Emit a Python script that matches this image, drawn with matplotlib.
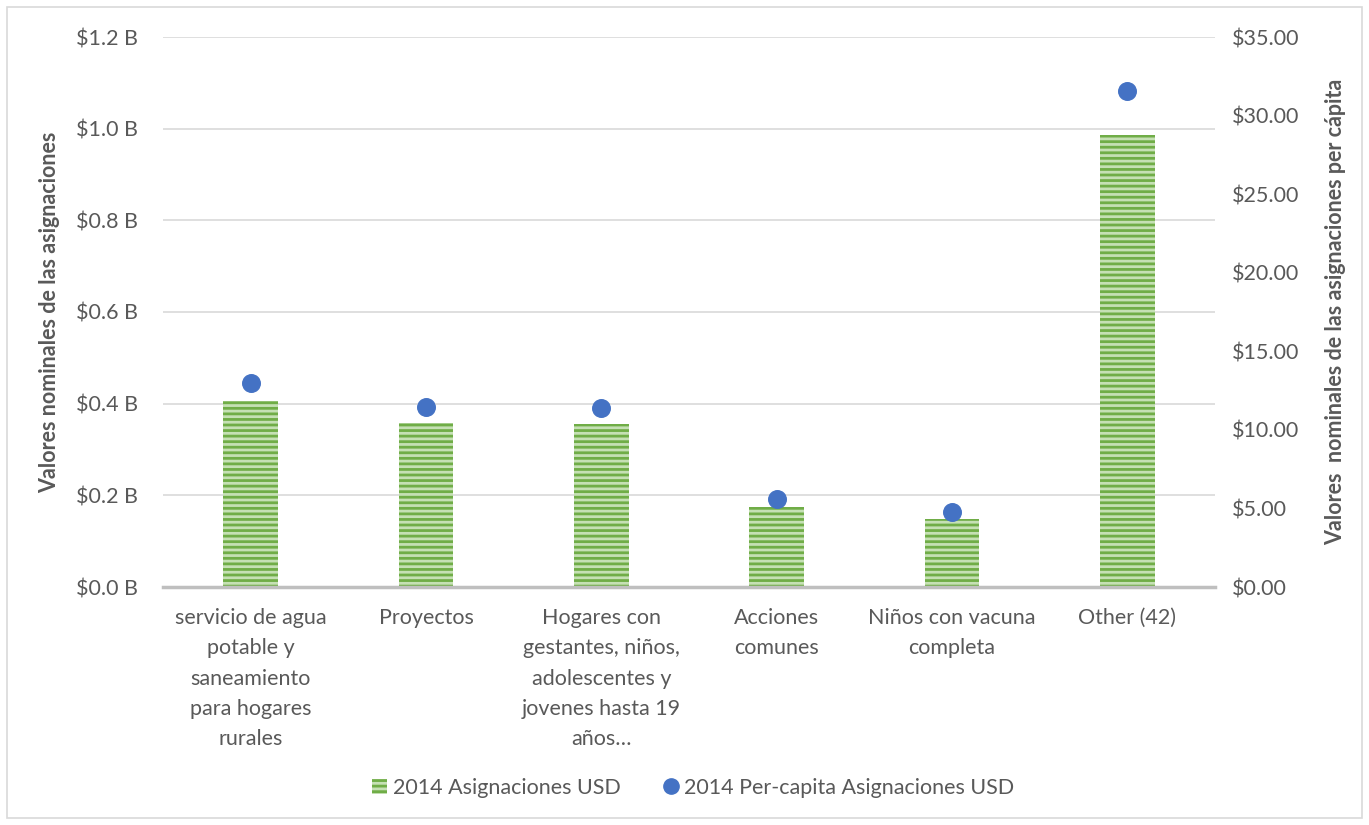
import matplotlib
matplotlib.use("Agg")
import matplotlib.pyplot as plt
from matplotlib.patches import Rectangle
from matplotlib.lines import Line2D
from matplotlib.ticker import FuncFormatter

plt.rcParams['font.family'] = ['Lato', 'DejaVu Sans']
plt.rcParams['hatch.linewidth'] = 2.0

categories = ["servicio de agua\npotable y\nsaneamiento\npara hogares\nrurales",
              "Proyectos",
              "Hogares con\ngestantes, niños,\nadolescentes y\njovenes hasta 19\naños…",
              "Acciones\ncomunes",
              "Niños con vacuna\ncompleta",
              "Other (42)"]
asignaciones_b = [0.406, 0.358, 0.355, 0.175, 0.148, 0.986]
percapita = [13.0, 11.46, 11.4, 5.6, 4.77, 31.58]
left_ticks = [0.0, 0.2, 0.4, 0.6, 0.8, 1.0, 1.2]
right_ticks = [0, 5, 10, 15, 20, 25, 30, 35]

grey = '#595959'
fs = 15.5
fig = plt.figure(figsize=(13.69, 8.25), dpi=100)
fig.patches.append(Rectangle((7/1369, 7/825), 1355/1369, 811/825, transform=fig.transFigure,
                             fill=False, edgecolor='#D9D9D9', linewidth=1.2))

ax = fig.add_axes([163/1369, 1-587/825, (1215-163)/1369, (587-37)/825])
x = list(range(len(categories)))
ax.bar(x, asignaciones_b, width=0.31, color='#C5E0B4', edgecolor='#70AD47', hatch='---',
       linewidth=0, zorder=2)
ax.set_ylim(0, 1.2)
ax.set_xlim(-0.5, len(categories) - 0.5)
ax.set_yticks(left_ticks)
ax.yaxis.set_major_formatter(FuncFormatter(lambda v, p: f"${v:.1f} B"))
ax.grid(axis='y', color='#D9D9D9', linewidth=1.2, zorder=0)
ax.set_axisbelow(True)
for s in ['top', 'right', 'left']:
    ax.spines[s].set_visible(False)
ax.spines['bottom'].set_color('#BFBFBF')
ax.spines['bottom'].set_linewidth(2.5)
ax.spines['bottom'].set_zorder(3)
ax.tick_params(axis='both', length=0, labelsize=fs, labelcolor=grey)
ax.tick_params(axis='y', pad=18)
ax.tick_params(axis='x', pad=15)
ax.set_xticks(x)
ax.set_xticklabels(categories, linespacing=1.65, va='top')
ax.set_ylabel("Valores nominales de las asignaciones", fontsize=fs, fontweight='bold',
              color=grey)
ax.yaxis.set_label_coords((60-163)/1052, 0.5)

ax2 = ax.twinx()
ax2.scatter(x, percapita, s=160, color='#4472C4', zorder=4)
ax2.set_ylim(0, 35)
ax2.set_yticks(right_ticks)
ax2.yaxis.set_major_formatter(FuncFormatter(lambda v, p: f"${v:.2f}"))
for s in ['top', 'right', 'left', 'bottom']:
    ax2.spines[s].set_visible(False)
ax2.tick_params(axis='y', length=0, labelsize=fs, labelcolor=grey, pad=12)
ax2.set_ylabel("Valores  nominales de las asignaciones per cápita", fontsize=fs,
               fontweight='bold', color=grey)
ax2.yaxis.set_label_coords((1325-163)/1052, 0.5)

handles = [Rectangle((0, 0), 1, 1, facecolor='#C5E0B4', edgecolor='#70AD47', hatch='---', linewidth=0),
           Line2D([], [], marker='o', linestyle='none', color='#4472C4', markersize=11)]
fig.legend(handles, ["2014 Asignaciones USD", "2014 Per-capita Asignaciones USD"],
           loc='center', bbox_to_anchor=(693/1369, 1-788/825), ncol=2, frameon=False,
           fontsize=fs, labelcolor=grey, handlelength=0.7, handleheight=0.7,
           handletextpad=0.25, columnspacing=2.0)

fig.savefig("out.png", dpi=100)
